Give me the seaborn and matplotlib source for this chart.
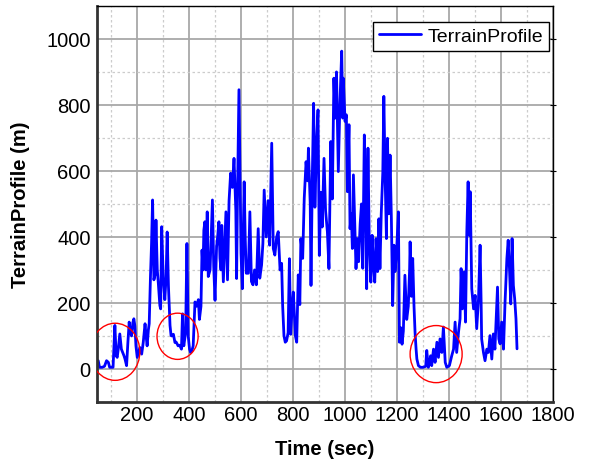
import matplotlib
matplotlib.use("Agg")
import matplotlib.pyplot as plt
from matplotlib.patches import Ellipse
from matplotlib.ticker import MultipleLocator
import pandas as pd
import seaborn as sns

# values
time_sec = [
    46, 51, 56, 66, 75, 83, 90, 95, 108, 115, 120, 124, 128, 134, 140, 145, 150, 154,
    160, 165, 170, 175, 179, 184, 188, 192, 196, 201, 206, 211, 218, 224, 231, 235,
    239, 244, 247, 252, 256, 260, 265, 269, 273, 278, 282, 288, 291, 295, 301, 307,
    312, 316, 321, 327, 331, 334, 340, 346, 350, 355, 358, 364, 371, 375, 378, 380,
    387, 392, 397, 402, 406, 411, 416, 423, 429, 436, 440, 446, 450, 454, 457, 461,
    465, 470, 474, 481, 486, 490, 495, 500, 506, 510, 515, 519, 523, 526, 532, 538,
    542, 548, 554, 560, 567, 573, 580, 583, 586, 592, 600, 605, 612, 616, 620, 628,
    634, 640, 646, 652, 659, 666, 672, 679, 684, 689, 697, 704, 710, 718, 724, 730,
    737, 743, 750, 756, 760, 765, 770, 775, 781, 786, 791, 796, 801, 806, 809, 814,
    820, 826, 830, 837, 843, 850, 856, 859, 866, 869, 874, 879, 884, 891, 896, 901,
    907, 912, 919, 925, 932, 938, 945, 951, 957, 962, 967, 974, 980, 987, 991, 993,
    1000, 1005, 1009, 1015, 1019, 1024, 1028, 1032, 1037, 1042, 1047, 1052, 1058,
    1063, 1068, 1074, 1079, 1083, 1088, 1093, 1099, 1104, 1109, 1114, 1119, 1125,
    1130, 1134, 1139, 1145, 1149, 1154, 1159, 1163, 1168, 1173, 1178, 1183, 1188,
    1192, 1198, 1205, 1209, 1214, 1219, 1224, 1230, 1237, 1243, 1248, 1250, 1255,
    1260, 1265, 1269, 1273, 1276, 1282, 1290, 1300, 1310, 1314, 1320, 1325, 1329,
    1333, 1340, 1346, 1353, 1359, 1365, 1372, 1378, 1385, 1391, 1401, 1410, 1417,
    1423, 1429, 1436, 1442, 1446, 1451, 1458, 1463, 1468, 1473, 1477, 1481, 1487,
    1494, 1500, 1506, 1513, 1519, 1523, 1525, 1532, 1538, 1545, 1551, 1557, 1564,
    1570, 1576, 1581, 1586, 1591, 1596, 1602, 1609, 1615, 1622, 1627, 1632, 1637,
    1642, 1647, 1652, 1657, 1661,
]
terrain_m = [
    25, 25, 5, 5, 8, 25, 20, 5, 5, 132, 40, 35, 60, 106, 60, 50, 40, 30,
    10, 80, 142, 110, 100, 140, 152, 130, 70, 35, 50, 65, 45, 80, 137, 100,
    70, 120, 137, 284, 380, 512, 270, 284, 451, 300, 260, 192, 182, 431, 274, 210,
    280, 415, 250, 132, 101, 100, 105, 80, 82, 75, 70, 72, 60, 167, 90, 70,
    110, 380, 100, 60, 50, 55, 70, 203, 190, 210, 150, 190, 360, 300, 420, 446,
    300, 476, 280, 300, 420, 512, 310, 208, 370, 400, 446, 335, 300, 435, 264, 390,
    476, 270, 510, 593, 550, 638, 480, 274, 500, 846, 350, 243, 567, 400, 290, 290,
    476, 265, 255, 300, 255, 425, 275, 315, 380, 542, 400, 510, 375, 684, 365, 345,
    400, 416, 300, 320, 192, 101, 81, 85, 110, 334, 105, 180, 233, 150, 100, 81,
    285, 195, 395, 335, 517, 628, 570, 669, 500, 253, 580, 805, 490, 700, 785, 344,
    535, 430, 638, 480, 415, 304, 689, 515, 881, 760, 900, 598, 800, 963, 760, 881,
    750, 770, 537, 740, 425, 470, 365, 588, 440, 304, 395, 325, 440,
    500, 305, 709, 510, 243, 669, 385, 263, 405, 315, 263, 395, 295,
    455, 304, 470, 595, 826, 580, 395, 699, 470, 648, 455, 192, 375,
    295, 355, 476, 81, 125, 75, 115, 284, 150, 190, 300, 385, 220,
    335, 190, 111, 60, 30, 10, 5, 5, 8, 56, 5, 20, 40,
    10, 60, 20, 81, 35, 91, 50, 127, 20, 5, 10, 40, 60,
    142, 50, 111, 152, 304, 182, 294, 142, 415, 567, 405, 537, 243,
    182, 223, 122, 213, 375, 203, 91, 50, 25, 60, 50, 101, 30,
    106, 60, 152, 248, 91, 76, 142, 60, 203, 334, 390, 304, 197,
    395, 253, 213, 152, 61,
]

# red circles marking the low, flat stretches
highlight_t = [116, 356, 1350]
highlight_m = [52, 99, 45]
highlight_w = [190, 158, 200]
highlight_h = [173, 140, 173]

sns.set_style("white")
plt.rcParams["font.family"] = ["Liberation Sans", "DejaVu Sans"]
plt.rcParams["text.color"] = "black"
plt.rcParams["axes.labelcolor"] = "black"
plt.rcParams["xtick.color"] = "black"
plt.rcParams["ytick.color"] = "black"

df = pd.DataFrame({"Time (sec)": time_sec, "TerrainProfile (m)": terrain_m})

fig = plt.figure(figsize=(5.91, 4.6), dpi=100)
ax = fig.add_axes([0.164, 0.124, 0.772, 0.861])

sns.lineplot(
    data=df, x="Time (sec)", y="TerrainProfile (m)", ax=ax,
    color="#0000ff", linewidth=2.0, estimator=None, label="TerrainProfile",
)

for cx, cy, w, h in zip(highlight_t, highlight_m, highlight_w, highlight_h):
    ax.add_patch(Ellipse((cx, cy), w, h, fill=False, edgecolor="#ff0000", linewidth=1.0, zorder=5))

ax.set_xlim(46, 1800)
ax.set_ylim(-100, 1100)
ax.xaxis.set_major_locator(MultipleLocator(200))
ax.xaxis.set_minor_locator(MultipleLocator(100))
ax.yaxis.set_major_locator(MultipleLocator(200))
ax.yaxis.set_minor_locator(MultipleLocator(100))

ax.grid(which="major", color="#a8a8a8", linewidth=1.3, linestyle="-")
ax.grid(which="minor", color="#cccccc", linewidth=0.9, linestyle=(0, (2, 2)))
ax.set_axisbelow(True)

ax.tick_params(axis="both", which="both", length=0, labelsize=14.5, pad=2)
ax.tick_params(axis="y", which="major", right=True, direction="inout", length=5, width=0.8)

for side in ["left", "bottom"]:
    ax.spines[side].set_color("#333333")
    ax.spines[side].set_linewidth(2.0)
for side in ["top", "right"]:
    ax.spines[side].set_color("black")
    ax.spines[side].set_linewidth(1.0)

ax.set_xlabel("Time (sec)", fontsize=14.5, fontweight="bold", labelpad=11)
ax.set_ylabel("TerrainProfile (m)", fontsize=14.5, fontweight="bold", labelpad=12)

leg = ax.legend(
    loc="upper right", bbox_to_anchor=(0.99, 0.96), borderaxespad=0,
    fontsize=14, fancybox=False, framealpha=1, edgecolor="black",
    borderpad=0.3, handletextpad=0.3, handlelength=2.2,
)
leg.get_frame().set_linewidth(1.0)

fig.savefig("out.png", dpi=100)
